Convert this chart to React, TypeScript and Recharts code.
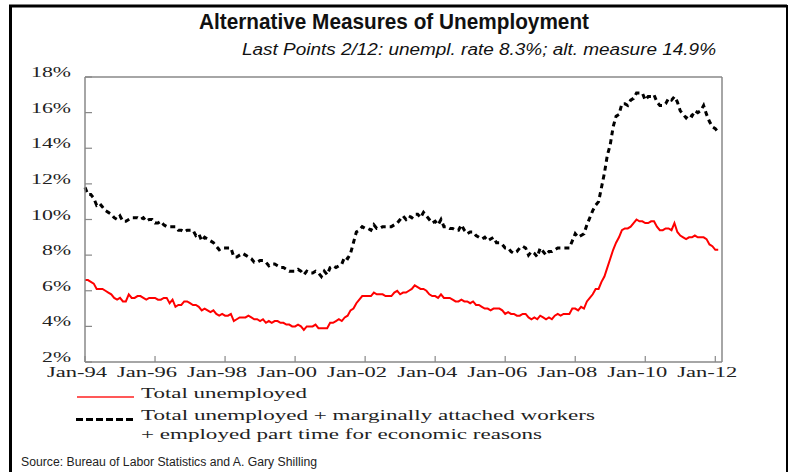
import React from "react";
import { LineChart, Line, XAxis, YAxis, ReferenceLine, Legend } from "recharts";

// monthly values, Jan-94 .. Feb-12 (percent)
const totalUnemployed = [
  6.6, 6.6, 6.5, 6.4, 6.1, 6.1, 6.1, 6.0, 5.9, 5.8, 5.6, 5.5,
  5.6, 5.4, 5.4, 5.8, 5.6, 5.6, 5.7, 5.7, 5.6, 5.5, 5.6, 5.6,
  5.6, 5.5, 5.5, 5.6, 5.6, 5.3, 5.5, 5.1, 5.2, 5.2, 5.4, 5.4,
  5.3, 5.2, 5.2, 5.1, 4.9, 5.0, 4.9, 4.8, 4.9, 4.7, 4.6, 4.7,
  4.6, 4.6, 4.7, 4.3, 4.4, 4.5, 4.5, 4.5, 4.6, 4.5, 4.4, 4.4,
  4.3, 4.4, 4.2, 4.3, 4.2, 4.3, 4.3, 4.2, 4.2, 4.1, 4.1, 4.0,
  4.0, 4.1, 4.0, 3.8, 4.0, 4.0, 4.0, 4.1, 3.9, 3.9, 3.9, 3.9,
  4.2, 4.2, 4.3, 4.4, 4.3, 4.5, 4.6, 4.9, 5.0, 5.3, 5.5, 5.7,
  5.7, 5.7, 5.7, 5.9, 5.8, 5.8, 5.8, 5.7, 5.7, 5.7, 5.9, 6.0,
  5.8, 5.9, 5.9, 6.0, 6.1, 6.3, 6.2, 6.1, 6.1, 6.0, 5.8, 5.7,
  5.7, 5.6, 5.8, 5.6, 5.6, 5.6, 5.5, 5.4, 5.4, 5.5, 5.4, 5.4,
  5.3, 5.4, 5.2, 5.2, 5.1, 5.0, 5.0, 4.9, 5.0, 5.0, 5.0, 4.9,
  4.7, 4.8, 4.7, 4.7, 4.6, 4.6, 4.7, 4.7, 4.5, 4.4, 4.5, 4.4,
  4.6, 4.5, 4.4, 4.5, 4.4, 4.6, 4.7, 4.6, 4.7, 4.7, 4.7, 5.0,
  5.0, 4.9, 5.1, 5.0, 5.4, 5.6, 5.8, 6.1, 6.1, 6.5, 6.8, 7.3,
  7.8, 8.3, 8.7, 9.0, 9.4, 9.5, 9.5, 9.6, 9.8, 10.0, 9.9, 9.9,
  9.8, 9.8, 9.9, 9.9, 9.6, 9.4, 9.4, 9.5, 9.5, 9.4, 9.8, 9.3,
  9.1, 9.0, 8.9, 9.0, 9.0, 9.1, 9.0, 9.0, 9.0, 8.9, 8.6, 8.5,
  8.3, 8.3,
];

const altMeasure = [
  11.8, 11.4, 11.4, 11.2, 10.8, 10.9, 10.7, 10.5, 10.4, 10.3, 10.1, 10.0,
  10.2, 9.9, 9.9, 10.0, 10.1, 10.1, 10.1, 10.0, 10.1, 9.9, 10.0, 10.0,
  9.8, 9.8, 9.9, 9.7, 9.6, 9.6, 9.6, 9.6, 9.4, 9.4, 9.3, 9.4,
  9.4, 9.4, 9.1, 9.2, 8.8, 9.0, 8.9, 8.8, 8.7, 8.5, 8.3, 8.4,
  8.4, 8.4, 8.4, 7.9, 7.9, 8.0, 8.1, 8.0, 7.9, 7.8, 7.6, 7.6,
  7.7, 7.7, 7.6, 7.4, 7.5, 7.5, 7.4, 7.3, 7.3, 7.2, 7.1, 7.1,
  7.1, 7.2, 7.1, 6.9, 7.1, 7.0, 7.0, 7.1, 7.0, 6.8, 7.1, 6.9,
  7.3, 7.4, 7.3, 7.4, 7.5, 7.9, 7.8, 8.1, 8.7, 9.3, 9.4, 9.6,
  9.5, 9.5, 9.4, 9.7, 9.5, 9.5, 9.6, 9.6, 9.6, 9.6, 9.7, 9.8,
  10.0, 10.2, 10.0, 10.2, 10.1, 10.3, 10.3, 10.1, 10.4, 10.2, 10.0, 9.8,
  9.9, 9.7, 10.0, 9.6, 9.6, 9.5, 9.5, 9.4, 9.4, 9.7, 9.4, 9.2,
  9.3, 9.3, 9.1, 9.0, 8.9, 9.0, 8.8, 8.9, 9.0, 8.7, 8.7, 8.6,
  8.4, 8.4, 8.2, 8.1, 8.2, 8.4, 8.5, 8.4, 8.0, 8.2, 8.1, 7.9,
  8.4, 8.2, 8.0, 8.2, 8.2, 8.3, 8.4, 8.4, 8.4, 8.4, 8.4, 8.8,
  9.2, 9.0, 9.1, 9.2, 9.7, 10.1, 10.5, 10.8, 11.0, 11.8, 12.6, 13.6,
  14.2, 15.2, 15.8, 15.9, 16.5, 16.5, 16.4, 16.7, 16.8, 17.1, 17.1, 17.1,
  16.7, 16.9, 16.9, 17.0, 16.6, 16.4, 16.4, 16.5, 16.8, 16.7, 16.9, 16.6,
  16.1, 15.9, 15.7, 15.9, 15.8, 16.1, 16.0, 16.1, 16.4, 15.9, 15.5, 15.2,
  15.1, 14.9,
];

const xTickMonths = [0, 24, 48, 72, 96, 120, 144, 168, 192, 216];
const xTickLabels = [
  "Jan-94", "Jan-96", "Jan-98", "Jan-00", "Jan-02",
  "Jan-04", "Jan-06", "Jan-08", "Jan-10", "Jan-12",
];
const yTicks = [2, 4, 6, 8, 10, 12, 14, 16, 18];

const seriesNames = ["Total unemployed", "Total unemployed + marginally attached workers"];
const legendExtraLine = "+ employed part time for economic reasons";

const data = totalUnemployed.map((u3, i) => ({ month: i, u3, u6: altMeasure[i] }));

const frameColor = "#888";
const serif = "'Liberation Serif', 'Times New Roman', serif";
const narrow = "'Liberation Sans Narrow', 'Liberation Sans', Arial, sans-serif";
const tickFont = {
  fontFamily: serif,
  fontSize: 15,
  fill: "#222",
};

// stretched like the wide serif of the original
const yLabelWidth = (v: number) => (v >= 10 ? 40 : 29);

const LeftTick = ({ x, y, payload }: any) => (
  <g>
    <line x1={x} x2={x + 7} y1={y} y2={y} stroke={frameColor} strokeWidth={1.2} />
    <text
      x={x - 14 - yLabelWidth(payload.value)}
      y={y}
      textLength={yLabelWidth(payload.value)}
      lengthAdjust="spacingAndGlyphs"
      {...tickFont}
    >
      {payload.value}%
    </text>
  </g>
);

const RightTick = ({ x, y, payload }: any) => (
  <g>
    <line x1={x - 7} x2={x} y1={y} y2={y} stroke={frameColor} strokeWidth={1.2} />
    <text
      x={x + 11}
      y={y}
      textLength={yLabelWidth(payload.value)}
      lengthAdjust="spacingAndGlyphs"
      {...tickFont}
    >
      {payload.value}%
    </text>
  </g>
);

// labels in the original sit a little left of their tick marks
const BottomTick = ({ x, y, payload }: any) => {
  const idx = xTickMonths.indexOf(payload.value);
  return (
    <g>
      <line x1={x} x2={x} y1={y - 6} y2={y} stroke={frameColor} strokeWidth={1.2} />
      <text
        x={x - 38}
        y={y + 14.5}
        textLength={60}
        lengthAdjust="spacingAndGlyphs"
        {...tickFont}
      >
        {xTickLabels[idx]}
      </text>
    </g>
  );
};

const legendText = {
  fontFamily: serif,
  fontSize: 15,
  fill: "#222",
};

const renderLegend = () => (
  <svg width={789} height={70}>
    <line x1={77} x2={134} y1={17} y2={17} stroke="#ff2020" strokeWidth={1.5} />
    <text x={141} y={18} textLength={166} lengthAdjust="spacingAndGlyphs" {...legendText}>
      {seriesNames[0]}
    </text>
    <line x1={76} x2={136} y1={39.5} y2={39.5} stroke="#000" strokeWidth={3} strokeDasharray="7 3" />
    <text x={141} y={40} textLength={454} lengthAdjust="spacingAndGlyphs" {...legendText}>
      {seriesNames[1]}
    </text>
    <text x={141} y={59} textLength={401} lengthAdjust="spacingAndGlyphs" {...legendText}>
      {legendExtraLine}
    </text>
  </svg>
);

export default function App() {
  return (
    <div
      style={{
        position: "absolute",
        left: 0,
        top: 0,
        width: 789,
        height: 472,
        overflow: "hidden",
        background: "#fff",
      }}
    >
      <LineChart
        width={789}
        height={472}
        data={data}
        margin={{ top: 77, right: 7, bottom: 80, left: 25 }}
      >
        <XAxis
          dataKey="month"
          type="number"
          domain={[0, 218.3]}
          ticks={xTickMonths}
          interval={0}
          height={30}
          tickSize={0}
          tickMargin={0}
          tick={<BottomTick />}
          axisLine={{ stroke: frameColor, strokeWidth: 1.5 }}
          tickLine={false}
        />
        <YAxis
          yAxisId="left"
          orientation="left"
          domain={[2, 18]}
          ticks={yTicks}
          interval={0}
          width={60}
          tickSize={0}
          tickMargin={0}
          tick={<LeftTick />}
          axisLine={{ stroke: frameColor, strokeWidth: 1.5 }}
          tickLine={false}
        />
        <YAxis
          yAxisId="right"
          orientation="right"
          domain={[2, 18]}
          ticks={yTicks}
          interval={0}
          width={60}
          tickSize={0}
          tickMargin={0}
          tick={<RightTick />}
          axisLine={{ stroke: frameColor, strokeWidth: 1.5 }}
          tickLine={false}
        />
        <ReferenceLine yAxisId="left" y={18} stroke={frameColor} strokeWidth={1.5} />
        <Line
          yAxisId="left"
          type="linear"
          dataKey="u3"
          name={seriesNames[0]}
          stroke="#ff0000"
          strokeWidth={2}
          dot={false}
          isAnimationActive={false}
        />
        <Line
          yAxisId="left"
          type="linear"
          dataKey="u6"
          name={seriesNames[1]}
          stroke="#000"
          strokeWidth={3}
          strokeDasharray="5 4"
          dot={false}
          isAnimationActive={false}
        />
        <Legend
          layout="horizontal"
          verticalAlign="middle"
          align="center"
          wrapperStyle={{ position: "absolute", left: 0, top: 380, width: 789, height: 70 }}
          content={renderLegend}
        />
      </LineChart>
      <svg
        width={789}
        height={472}
        style={{ position: "absolute", left: 0, top: 0, pointerEvents: "none" }}
      >
        <path d="M10.5,480 V6 H787" fill="none" stroke="#000" strokeWidth={3} />
        <line x1={787} x2={787} y1={5} y2={480} stroke="#000" strokeWidth={2} />
        <text
          x={199}
          y={28.5}
          textLength={390}
          lengthAdjust="spacingAndGlyphs"
          fontFamily={narrow}
          fontWeight="bold"
          fontSize={22}
          fill="#111"
        >
          Alternative Measures of Unemployment
        </text>
        <text
          x={242}
          y={55}
          textLength={474}
          lengthAdjust="spacingAndGlyphs"
          fontFamily={narrow}
          fontStyle="italic"
          fontSize={16}
          fill="#111"
        >
          Last Points 2/12: unempl. rate 8.3%; alt. measure 14.9%
        </text>
        <text
          x={21}
          y={466}
          textLength={296}
          lengthAdjust="spacingAndGlyphs"
          fontFamily={narrow}
          fontSize={12.5}
          fill="#222"
        >
          Source:  Bureau of Labor Statistics and A. Gary Shilling
        </text>
      </svg>
    </div>
  );
}
